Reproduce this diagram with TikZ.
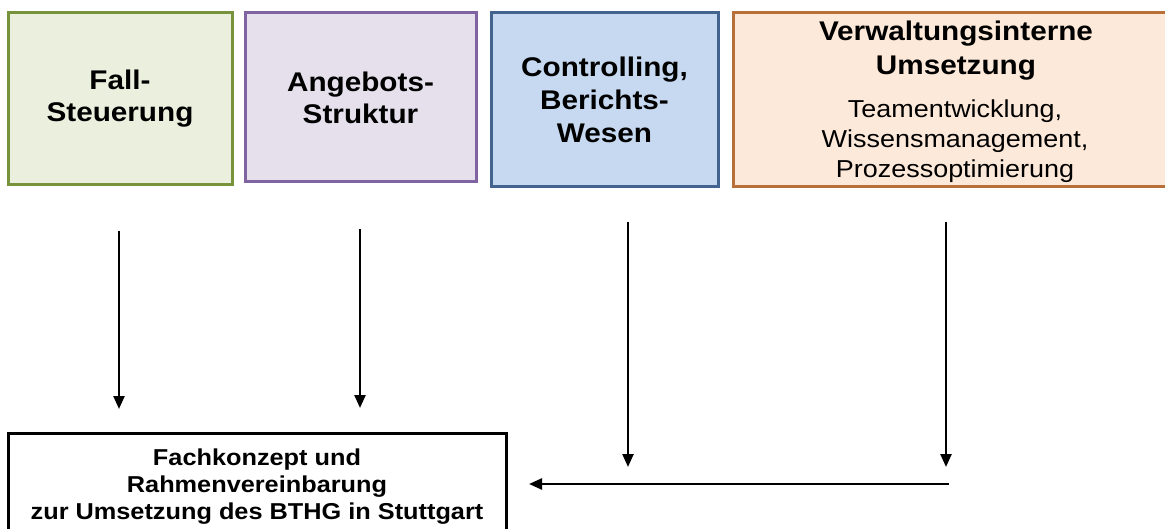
\documentclass[tikz,border=0pt]{standalone}
\usepackage{fontspec}
\setmainfont{Liberation Sans}[FakeStretch=1.1]
\usetikzlibrary{arrows.meta}
\definecolor{greenD}{HTML}{77933C}
\definecolor{greenL}{HTML}{EBEFDE}
\definecolor{purpD}{HTML}{8064A2}
\definecolor{purpL}{HTML}{E5E0EC}
\definecolor{blueD}{HTML}{42648F}
\definecolor{blueL}{HTML}{C6D9F0}
\definecolor{orD}{HTML}{B86F38}
\definecolor{orL}{HTML}{FDE9D9}
\begin{document}
\begin{tikzpicture}[x=1pt,y=-1pt,
  box/.style={draw, line width=3pt, inner sep=0pt, align=center},
  titlef/.style={font=\bfseries\fontsize{27}{32}\selectfont},
  subf/.style={font=\fontsize{24.5}{30}\selectfont},
  conn/.style={line width=2.4pt, -{Triangle[length=13pt,width=11pt]}}]
\useasboundingbox (0,0) rectangle (1165,529);
\node[box, titlef, draw=greenD, fill=greenL, minimum width=224pt, minimum height=172pt] (fall) at (120,99) {\raisebox{-3pt}{\parbox{200pt}{\centering Fall-\\Steuerung}}};
\node[box, titlef, draw=purpD, fill=purpL, minimum width=231pt, minimum height=169pt] (angebot) at (360.5,97.5) {Angebots-\\Struktur};
\node[box, titlef, draw=blueD, fill=blueL, minimum width=227pt, minimum height=174pt, font=\bfseries\fontsize{27}{33}\selectfont] (control) at (604.5,100) {Controlling,\\Berichts-\\Wesen};
\node[box, draw=orD, fill=orL, minimum width=442pt, minimum height=174pt] (verw) at (954,100) {};
\node[align=center, inner sep=0pt, font=\bfseries\fontsize{27}{34}\selectfont] (verwtitle) at (956,51) {Verwaltungsinterne\\Umsetzung};
\node[align=center, inner sep=0pt, subf] (verwsub) at (955,141) {Teamentwicklung,\\Wissensmanagement,\\Prozessoptimierung};
\node[box, draw=black, fill=white, minimum width=498pt, minimum height=107pt, font=\bfseries\fontsize{23}{27}\selectfont] (fach) at (257,487) {Fachkonzept und\\Rahmenvereinbarung\\zur Umsetzung des BTHG in Stuttgart};
\coordinate (a1s) at (119,231); \coordinate (a1e) at (119,409);
\coordinate (a2s) at (360,229); \coordinate (a2e) at (360,408);
\coordinate (a3s) at (628,222); \coordinate (a3e) at (628,467);
\coordinate (a4s) at (946,222); \coordinate (a4e) at (946,467);
\coordinate (hs) at (949,484); \coordinate (he) at (529,484);
\draw[conn] (a1s) -- (a1e);
\draw[conn] (a2s) -- (a2e);
\draw[conn] (a3s) -- (a3e);
\draw[conn] (a4s) -- (a4e);
\draw[conn] (hs) -- (he);
\end{tikzpicture}
\end{document}
